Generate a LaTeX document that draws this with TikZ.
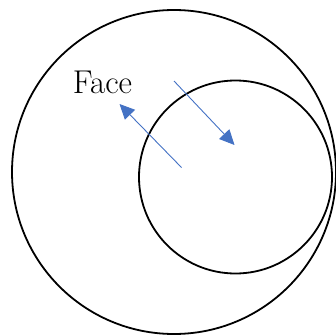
\documentclass[tikz,border=0pt]{standalone}
\usepackage{tikz}
\usetikzlibrary{arrows.meta}
\definecolor{faceblue}{HTML}{4472C4}

\begin{document}
\begin{tikzpicture}[x=1pt, y=1pt,
  ring/.style={draw=black, line width=1.8pt},
  facearrow/.style={draw=faceblue, line width=0.9pt, -{Triangle[length=15pt, width=14pt]}}]
\useasboundingbox (0,0) rectangle (336,335);

% outer and inner circles
\draw[ring] (174,163) circle (162);
\draw[ring] (235.5,158) circle (96.5);

% label
\node[anchor=base, font=\fontsize{33}{38}\selectfont, inner sep=0pt] (face) at (102.5,241) {Face};

% arrow end points
\coordinate (outA) at (181.5,167.5);
\coordinate (outB) at (119.5,231);
\coordinate (inA) at (174,254);
\coordinate (inB) at (234.5,190);

% arrows
\draw[facearrow] (outA) -- (outB);
\draw[facearrow] (inA) -- (inB);
\end{tikzpicture}
\end{document}
